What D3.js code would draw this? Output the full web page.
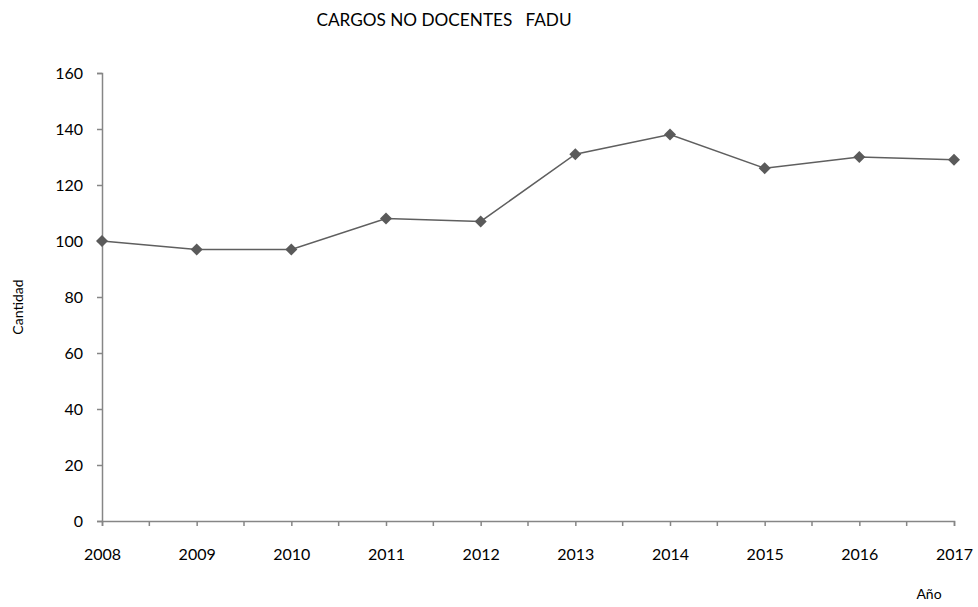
<!DOCTYPE html>
<meta charset="utf-8">
<script src="https://d3js.org/d3.v7.min.js"></script>
<style>
body { margin: 0; background: #fff; }
text { font-family: Lato, "Open Sans", sans-serif; fill: #000; }
</style>
<div id="chart"></div>
<script>
// data
var years = [2008, 2009, 2010, 2011, 2012, 2013, 2014, 2015, 2016, 2017];
var cantidad = [100, 97, 97, 108, 107, 131, 138, 126, 130, 129];
var yTicks = [0, 20, 40, 60, 80, 100, 120, 140, 160];

var width = 978, height = 607;
var margin = {top: 73, right: 24, bottom: 86, left: 102};

var svg = d3.select("#chart").append("svg")
  .attr("width", width)
  .attr("height", height);

var x = d3.scalePoint()
  .domain(years)
  .range([margin.left, width - margin.right]);

var y = d3.scaleLinear()
  .domain([0, 160])
  .range([height - margin.bottom, margin.top]);

// y axis
var yAxis = svg.append("g")
  .attr("transform", "translate(" + margin.left + ",0)")
  .call(d3.axisLeft(y).tickValues(yTicks).tickSize(5).tickPadding(14));
yAxis.select(".domain").attr("stroke", "#868686").attr("stroke-width", 1.5);
yAxis.selectAll(".tick line").attr("stroke", "#868686").attr("stroke-width", 1.5);
yAxis.selectAll("text").style("font-size", "16px");

// x axis (minor ticks halfway between years)
var step = x.step();
var xAxis = svg.append("g")
  .attr("transform", "translate(0," + y(0) + ")")
  .call(d3.axisBottom(x).tickSize(5).tickPadding(23));
xAxis.select(".domain").attr("stroke", "#868686").attr("stroke-width", 1.5);
xAxis.selectAll(".tick line").attr("stroke", "#868686").attr("stroke-width", 1.5);
xAxis.selectAll("text").style("font-size", "16px");
xAxis.selectAll(".half")
  .data(years.slice(1))
  .enter().append("line")
    .attr("class", "half")
    .attr("x1", function(d) { return x(d) - step / 2; })
    .attr("x2", function(d) { return x(d) - step / 2; })
    .attr("y1", 0)
    .attr("y2", 5)
    .attr("stroke", "#868686")
    .attr("stroke-width", 1.5);

var pts = years.map(function(d, i) { return {year: d, value: cantidad[i]}; });

// line
svg.append("path")
  .datum(pts)
  .attr("fill", "none")
  .attr("stroke", "#5f5f5f")
  .attr("stroke-width", 1.5)
  .attr("d", d3.line()
    .x(function(d) { return x(d.year); })
    .y(function(d) { return y(d.value); }));

// diamond markers
svg.selectAll(".mark")
  .data(pts)
  .enter().append("path")
    .attr("class", "mark")
    .attr("transform", function(d) { return "translate(" + x(d.year) + "," + y(d.value) + ")"; })
    .attr("d", "M0,-6L6,0L0,6L-6,0Z")
    .attr("fill", "#5a5a5a");

// titles
svg.append("text")
  .attr("x", 444)
  .attr("y", 26)
  .attr("text-anchor", "middle")
  .style("font-size", "17.2px")
  .style("white-space", "pre")
  .text("CARGOS NO DOCENTES   FADU");

svg.append("text")
  .attr("transform", "translate(23,307) rotate(-90)")
  .attr("text-anchor", "middle")
  .style("font-size", "14px")
  .text("Cantidad");

svg.append("text")
  .attr("x", 929)
  .attr("y", 599)
  .attr("text-anchor", "middle")
  .style("font-size", "14px")
  .text("Año");
</script>
